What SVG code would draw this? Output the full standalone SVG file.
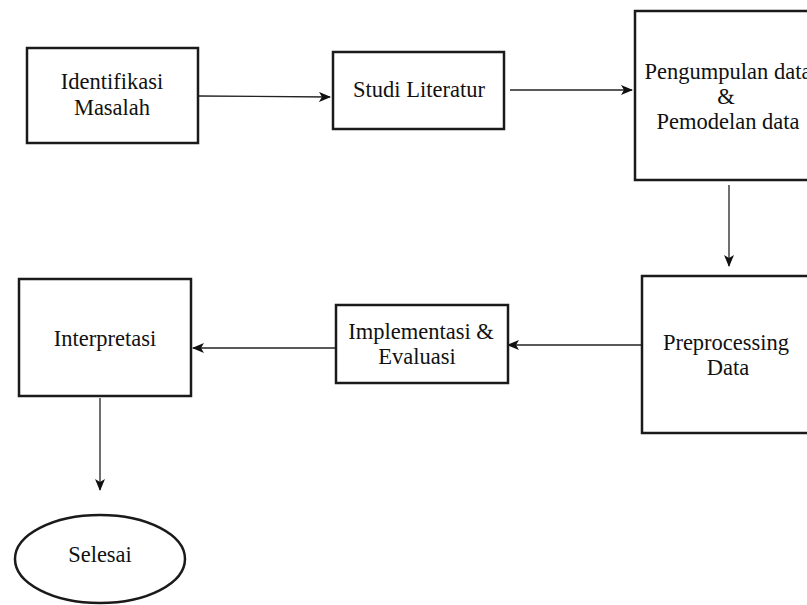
<svg xmlns="http://www.w3.org/2000/svg" width="807" height="605" viewBox="0 0 807 605">
<style>
.box{fill:#fff;stroke:#1a1a1a;stroke-width:2.5}
.t{font-family:"Liberation Serif","Times New Roman",serif;font-size:22.5px;fill:#111;text-anchor:middle}
.c{stroke:#222;stroke-width:1.3;fill:none;marker-end:url(#ah)}
</style>
<defs>
<marker id="ah" viewBox="0 0 12 10" refX="11" refY="5" markerWidth="12" markerHeight="10" markerUnits="userSpaceOnUse" orient="auto">
<path d="M0,0 L12,5 L0,10 L3,5 Z" fill="#111"/>
</marker>
</defs>
<rect width="807" height="605" fill="#fff"/>
<g id="connectors">
<line class="c" x1="198" y1="96" x2="330" y2="97"/>
<line class="c" x1="510" y1="90" x2="632" y2="90"/>
<line class="c" x1="729" y1="185" x2="729" y2="266"/>
<line class="c" x1="641" y1="345" x2="508" y2="345"/>
<line class="c" x1="335" y1="348" x2="193" y2="348"/>
<line class="c" x1="100" y1="398" x2="100" y2="490"/>
</g>
<g id="identifikasi">
<rect class="box" x="27" y="48" width="171" height="95"/>
<text class="t" x="112" y="89">Identifikasi</text>
<text class="t" x="112" y="115">Masalah</text>
</g>
<g id="studi">
<rect class="box" x="333" y="52" width="171" height="77"/>
<text class="t" x="419" y="97">Studi Literatur</text>
</g>
<g id="pengumpulan">
<rect class="box" x="635" y="11" width="180" height="169"/>
<text class="t" x="728" y="79">Pengumpulan data</text>
<text class="t" x="726" y="104">&amp;</text>
<text class="t" x="728" y="129">Pemodelan data</text>
</g>
<g id="preprocessing">
<rect class="box" x="642" y="276" width="180" height="157"/>
<text class="t" x="726" y="350">Preprocessing</text>
<text class="t" x="728" y="375">Data</text>
</g>
<g id="implementasi">
<rect class="box" x="336" y="305" width="172" height="78"/>
<text class="t" x="421" y="339">Implementasi &amp;</text>
<text class="t" x="417" y="364">Evaluasi</text>
</g>
<g id="interpretasi">
<rect class="box" x="19" y="279" width="172" height="117"/>
<text class="t" x="105" y="346">Interpretasi</text>
</g>
<g id="selesai">
<ellipse class="box" cx="100" cy="559" rx="85" ry="44"/>
<text class="t" x="100" y="562">Selesai</text>
</g>
</svg>
